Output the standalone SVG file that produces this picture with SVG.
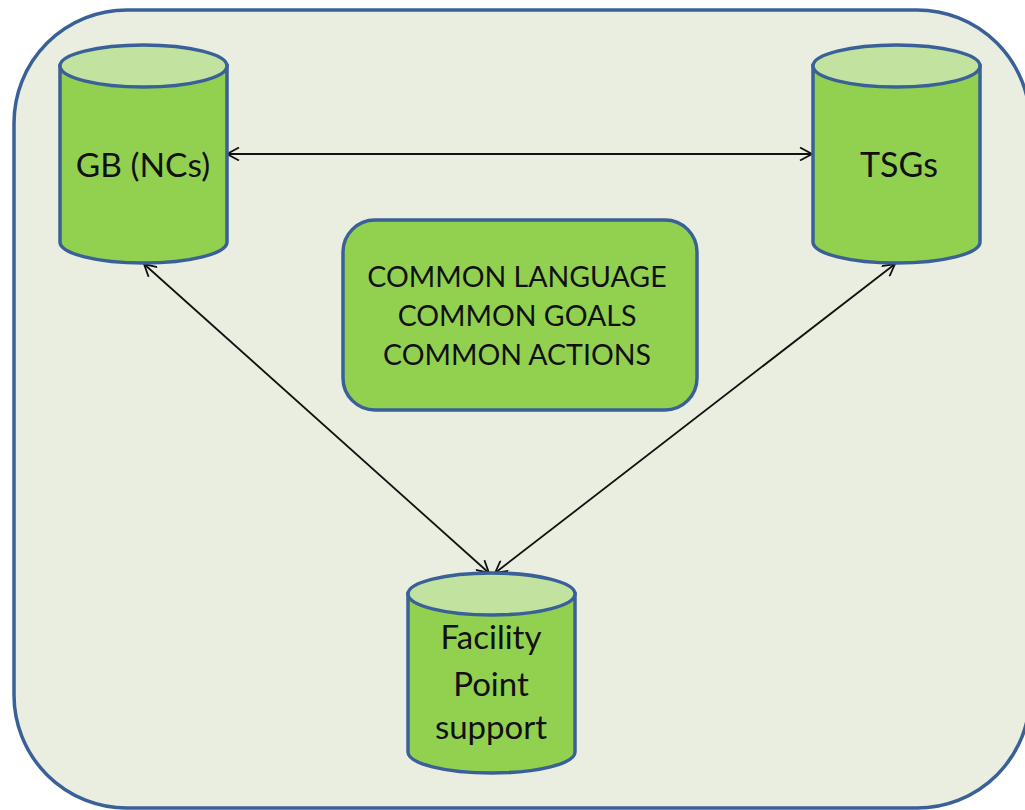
<svg xmlns="http://www.w3.org/2000/svg" width="1025" height="810" viewBox="0 0 1025 810">
<defs>
<style>
.cyl{fill:#92D050;stroke:#3A6197;stroke-width:3.5}
.cap{fill:#C2E3A0;stroke:#3A6197;stroke-width:3.5}
.lbl{font-family:Lato,"Open Sans",sans-serif;fill:#111;text-anchor:middle}
.conn{stroke:#111;stroke-width:1.8;fill:none;marker-start:url(#ah);marker-end:url(#ah)}
</style>
<marker id="ah" viewBox="0 0 14 14" refX="13" refY="7" markerWidth="14" markerHeight="14" markerUnits="userSpaceOnUse" orient="auto-start-reverse">
<path d="M1,0.5 L13,7 L1,13.5" fill="none" stroke="#111" stroke-width="1.8"/>
</marker>
</defs>
<rect width="1025" height="810" fill="#FFFFFF"/>
<rect id="frame" x="14" y="10" width="1016" height="798" rx="113" ry="113" fill="#EAEEE1" stroke="#3A6197" stroke-width="3.5"/>
<g id="connectors">
<line class="conn" x1="227" y1="154" x2="812" y2="154"/>
<line class="conn" x1="144" y1="264" x2="489" y2="573"/>
<line class="conn" x1="895" y1="264" x2="495" y2="573"/>
</g>
<g id="gb">
<path class="cyl" d="M60,66 V242 A83.5,21 0 0 0 227,242 V66 Z"/>
<ellipse class="cap" cx="143.5" cy="66" rx="83.5" ry="21"/>
<text class="lbl" x="143" y="177" font-size="33.5">GB (NCs)</text>
</g>
<g id="tsgs">
<path class="cyl" d="M813,66 V242 A83.5,21 0 0 0 980,242 V66 Z"/>
<ellipse class="cap" cx="896.5" cy="66" rx="83.5" ry="21"/>
<text class="lbl" x="899" y="177" font-size="34">TSGs</text>
</g>
<g id="facility">
<path class="cyl" d="M408,594 V752 A83.5,21 0 0 0 575,752 V594 Z"/>
<ellipse class="cap" cx="491.5" cy="594" rx="83.5" ry="21"/>
<text class="lbl" font-size="33"><tspan x="491" y="649">Facility</tspan><tspan x="491" y="696">Point</tspan><tspan x="491" y="739">support</tspan></text>
</g>
<g id="common">
<rect x="343" y="220" width="354" height="190" rx="32" ry="32" fill="#92D050" stroke="#3A6197" stroke-width="3.5"/>
<text class="lbl" font-size="28.5"><tspan x="517" y="287">COMMON LANGUAGE</tspan><tspan x="517" y="326">COMMON GOALS</tspan><tspan x="517" y="365">COMMON ACTIONS</tspan></text>
</g>
</svg>
